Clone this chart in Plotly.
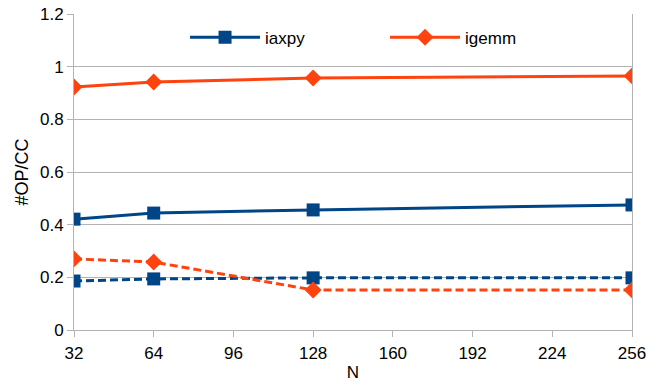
import plotly.graph_objects as go

N = [32, 64, 128, 256]
iaxpy = [0.421, 0.444, 0.456, 0.475]
igemm = [0.923, 0.942, 0.957, 0.965]
iaxpy_dash = [0.186, 0.194, 0.198, 0.198]
igemm_dash = [0.270, 0.258, 0.152, 0.152]
x_ticks = [32, 64, 96, 128, 160, 192, 224, 256]
y_ticks = [0, 0.2, 0.4, 0.6, 0.8, 1, 1.2]

BLUE = "#004586"
ORANGE = "#ff420e"

fig = go.Figure()
fig.add_trace(go.Scatter(x=N, y=iaxpy_dash, mode="lines+markers", showlegend=False,
                         line=dict(color=BLUE, width=3, dash="8px,4px"),
                         marker=dict(symbol="square", size=13, color=BLUE)))
fig.add_trace(go.Scatter(x=N, y=igemm_dash, mode="lines+markers", showlegend=False,
                         line=dict(color=ORANGE, width=3, dash="8px,4px"),
                         marker=dict(symbol="diamond", size=13, color=ORANGE)))
fig.add_trace(go.Scatter(x=N, y=iaxpy, mode="lines+markers", name="iaxpy",
                         line=dict(color=BLUE, width=3),
                         marker=dict(symbol="square", size=13, color=BLUE)))
fig.add_trace(go.Scatter(x=N, y=igemm, mode="lines+markers", name="igemm",
                         line=dict(color=ORANGE, width=3),
                         marker=dict(symbol="diamond", size=13, color=ORANGE)))

fig.update_layout(
    width=656, height=377,
    margin=dict(l=66, r=32, t=6, b=55, autoexpand=False),
    paper_bgcolor="white", plot_bgcolor="white",
    font=dict(family="Liberation Sans, Arial, sans-serif", size=17, color="black"),
    legend=dict(orientation="h", x=0.199, y=0.925, xanchor="left", yanchor="middle",
                bgcolor="rgba(0,0,0,0)", itemwidth=70, entrywidth=115,
                font=dict(size=17)),
    xaxis=dict(range=[32, 256], tickvals=x_ticks, ticktext=[str(v) for v in x_ticks],
               showgrid=False, zeroline=False, showline=True, linecolor="#b3b3b3",
               linewidth=1, ticks="outside", ticklen=6, tickcolor="#b3b3b3",
               ticklabelstandoff=2, ticklabeloverflow="allow",
               title=dict(text="N", standoff=3, font=dict(size=17))),
    yaxis=dict(range=[0, 1.20001], tickvals=y_ticks, ticktext=["0", "0.2", "0.4", "0.6", "0.8", "1", "1.2"],
               showgrid=True, gridcolor="#b3b3b3", zeroline=False, showline=True,
               linecolor="#b3b3b3", linewidth=1, mirror=True, ticks="outside", ticklen=6,
               tickcolor="#b3b3b3", ticklabeloverflow="allow",
               title=dict(text="#OP/CC", standoff=6, font=dict(size=18))),
)

fig.write_html("out.html")
